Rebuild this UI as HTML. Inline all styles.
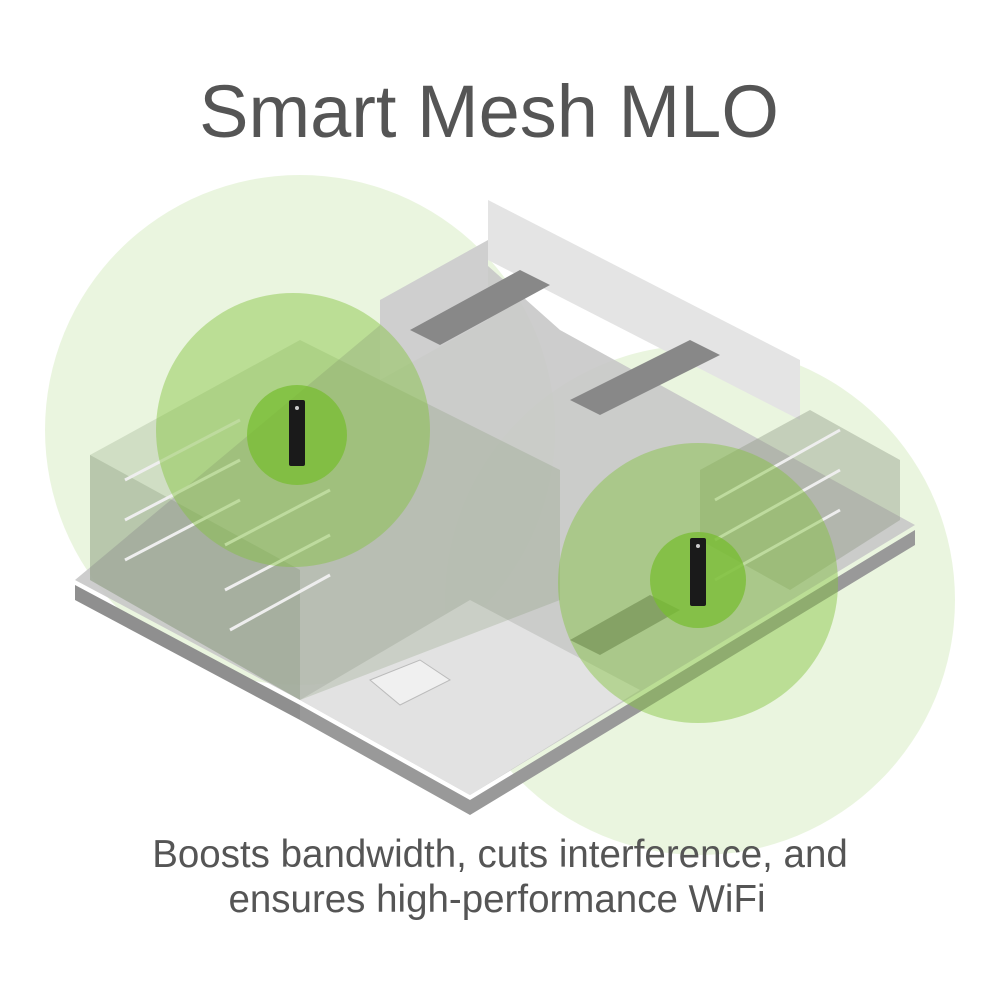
<!DOCTYPE html>
<html><head><meta charset="utf-8"><style>
html,body{margin:0;padding:0;background:#fff;width:1000px;height:1000px;overflow:hidden}
svg{position:absolute;left:0;top:0}
.t{font-family:"Liberation Sans",sans-serif;fill:#555;text-anchor:middle}
</style></head><body>
<svg width="1000" height="1000" viewBox="0 0 1000 1000">
<text class="t" x="489" y="137" font-size="74">Smart Mesh MLO</text>
<circle cx="300" cy="430" r="255" fill="rgba(160,210,110,0.22)"/>
<circle cx="700" cy="600" r="255" fill="rgba(160,210,110,0.22)"/>
<polygon points="75,585 300,705 300,720 75,600" fill="#8f8f8f"/>
<polygon points="300,705 470,800 915,530 915,545 470,815 300,720" fill="#999"/>
<polygon points="75,580 300,700 470,795 915,525 560,330 470,250" fill="#c8c8c8" opacity="0.9"/>
<polygon points="300,700 470,795 640,690 470,600" fill="#e2e2e2"/>
<polygon points="488,200 800,360 800,420 488,260" fill="#e4e4e4"/>
<polygon points="380,300 488,240 488,320 380,380" fill="#cfcfcf"/>
<polygon points="90,455 300,340 560,470 560,600 300,700 90,580" fill="rgba(120,140,100,0.22)"/>
<polygon points="90,455 90,580 300,700 300,570" fill="rgba(110,130,100,0.25)"/>
<polygon points="700,470 810,410 900,460 900,520 790,590 700,540" fill="rgba(140,150,130,0.4)"/>
<polygon points="570,400 690,340 720,355 600,415" fill="#888"/>
<polygon points="410,330 520,270 550,285 440,345" fill="#888"/>
<polygon points="570,640 650,595 680,610 600,655" fill="#888"/>
<g stroke="#eee" stroke-width="3" fill="none">
<path d="M125,480 L240,420 M125,520 L240,460 M125,560 L240,500"/>
<path d="M225,545 L330,490 M225,590 L330,535 M230,630 L330,575"/>
<path d="M715,500 L840,430 M715,540 L840,470 M715,580 L840,510"/>
</g>
<polygon points="370,680 420,660 450,680 400,705" fill="#f0f0f0" stroke="#bbb"/>
<circle cx="293" cy="430" r="137" fill="rgba(130,195,60,0.45)"/>
<circle cx="297" cy="435" r="50" fill="rgba(120,190,50,0.75)"/>
<circle cx="698" cy="583" r="140" fill="rgba(130,195,60,0.45)"/>
<circle cx="698" cy="580" r="48" fill="rgba(120,190,50,0.75)"/>
<rect x="289" y="400" width="16" height="66" rx="2" fill="#1a1a1a"/>
<circle cx="297" cy="408" r="2" fill="#ccc"/>
<rect x="690" y="538" width="16" height="68" rx="2" fill="#1a1a1a"/>
<circle cx="698" cy="546" r="2" fill="#ccc"/>
<text class="t" x="500" y="867" font-size="38.5">Boosts bandwidth, cuts interference, and</text>
<text class="t" x="497" y="912" font-size="38.5">ensures high-performance WiFi</text>
</svg>
</body></html>
